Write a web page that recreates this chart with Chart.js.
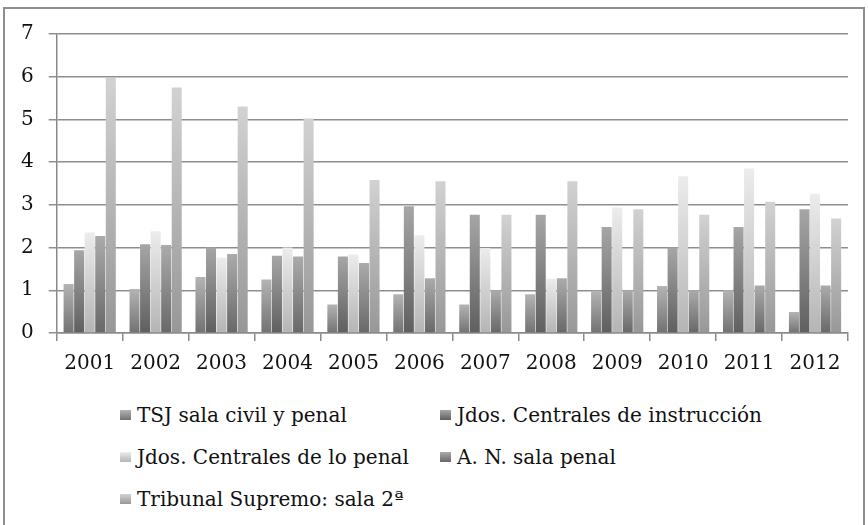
<!DOCTYPE html>
<html>
<head>
<meta charset="utf-8">
<script src="https://cdn.jsdelivr.net/npm/chart.js@4.4.1/dist/chart.umd.min.js"></script>
<style>
  body { margin: 0; background: #fff; overflow: hidden; }
  #page { position: absolute; left: 0; top: 0; width: 868px; height: 525px; }
  #frame { position: absolute; left: 3px; top: 7px; width: 862px; height: 530px; border: 2px solid #8e8e8e; box-sizing: border-box; }
  #box { position: absolute; left: 0; top: 0; width: 868px; height: 391px; }
  #legend { position: absolute; left: 120px; top: 403px; font-family: "DejaVu Serif", serif; font-size: 20px; color: #111; }
  .item { position: absolute; white-space: nowrap; line-height: 24px; }
  .item span.sw { display: inline-block; width: 11px; height: 10px; margin-right: 6px; vertical-align: 2px; }
</style>
</head>
<body>
<div id="page">
  <div id="frame"></div>
  <div id="box"><canvas id="myChart"></canvas></div>
  <div id="legend"></div>
</div>
<script>
const years = ["2001", "2002", "2003", "2004", "2005", "2006", "2007", "2008", "2009", "2010", "2011", "2012"];
const seriesNames = ["TSJ sala civil y penal", "Jdos. Centrales de instrucción", "Jdos. Centrales de lo penal", "A. N. sala penal", "Tribunal Supremo: sala 2ª"];
const tsj = [1.15, 1.03, 1.31, 1.25, 0.67, 0.91, 0.67, 0.91, 0.99, 1.1, 1.0, 0.49];
const instruccion = [1.94, 2.08, 2.0, 1.81, 1.79, 2.97, 2.77, 2.77, 2.48, 2.0, 2.48, 2.9];
const penal = [2.35, 2.38, 1.76, 2.0, 1.84, 2.29, 1.99, 1.27, 2.94, 3.67, 3.85, 3.26];
const audiencia = [2.27, 2.06, 1.85, 1.79, 1.64, 1.28, 1.0, 1.28, 1.0, 1.0, 1.11, 1.11];
const supremo = [5.97, 5.75, 5.3, 5.02, 3.58, 3.55, 2.77, 3.55, 2.9, 2.77, 3.07, 2.68];
const yTicks = [0, 1, 2, 3, 4, 5, 6, 7];

// top / bottom colours of the gray gradients
const shades = [
  ["#b4b4b4", "#727272"],
  ["#a6a6a6", "#5f5f5f"],
  ["#ececec", "#b4b4b4"],
  ["#ababab", "#686868"],
  ["#d2d2d2", "#979797"]
];

function barFill(i) {
  return function (ctx) {
    const chart = ctx.chart;
    const y = chart.scales.y;
    if (!chart.chartArea || !y || ctx.raw === undefined) return shades[i][1];
    const top = y.getPixelForValue(ctx.raw);
    const bottom = y.getPixelForValue(0);
    if (!isFinite(top) || !isFinite(bottom) || bottom - top < 1) return shades[i][1];
    const g = chart.ctx.createLinearGradient(0, top, 0, bottom);
    g.addColorStop(0, shades[i][0]);
    g.addColorStop(1, shades[i][1]);
    return g;
  };
}

const allData = [tsj, instruccion, penal, audiencia, supremo];
const tickFont = { family: "'DejaVu Serif', serif", size: 20 };

const chart = new Chart(document.getElementById("myChart").getContext("2d"), {
  type: "bar",
  data: {
    labels: years,
    datasets: allData.map(function (d, i) {
      return {
        label: seriesNames[i],
        data: d,
        backgroundColor: barFill(i),
        borderWidth: 0,
        barPercentage: 0.95,
        categoryPercentage: 0.8
      };
    })
  },
  options: {
    responsive: true,
    maintainAspectRatio: false,
    animation: false,
    layout: { padding: { left: 6, right: 20, top: 34, bottom: 4 } },
    plugins: {
      legend: { display: false },
      tooltip: { enabled: false }
    },
    scales: {
      x: {
        grid: {
          offset: true,
          drawOnChartArea: false,
          drawTicks: true,
          tickLength: 8,
          color: "#8a8a8a",
          lineWidth: 1.5
        },
        border: { color: "#8a8a8a", width: 1.5 },
        ticks: { color: "#111", font: tickFont, padding: 11 }
      },
      y: {
        min: 0,
        max: 7,
        afterBuildTicks: function (axis) {
          axis.ticks = yTicks.map(function (v) { return { value: v }; });
        },
        grid: {
          color: "#8e8e8e",
          lineWidth: 1.5,
          tickLength: 8
        },
        border: { color: "#8a8a8a", width: 1.5 },
        ticks: { color: "#111", font: tickFont, padding: 15 }
      }
    }
  }
});

// two-column legend under the chart
const legendPos = [[0, 0], [320, 0], [0, 42], [320, 42], [0, 84]];
const legendBox = document.getElementById("legend");
chart.data.datasets.forEach(function (ds, i) {
  const item = document.createElement("div");
  item.className = "item";
  item.style.left = legendPos[i][0] + "px";
  item.style.top = legendPos[i][1] + "px";
  const sw = document.createElement("span");
  sw.className = "sw";
  sw.style.background = "linear-gradient(" + shades[i][0] + ", " + shades[i][1] + ")";
  item.appendChild(sw);
  item.appendChild(document.createTextNode(ds.label));
  legendBox.appendChild(item);
});
</script>
</body>
</html>
